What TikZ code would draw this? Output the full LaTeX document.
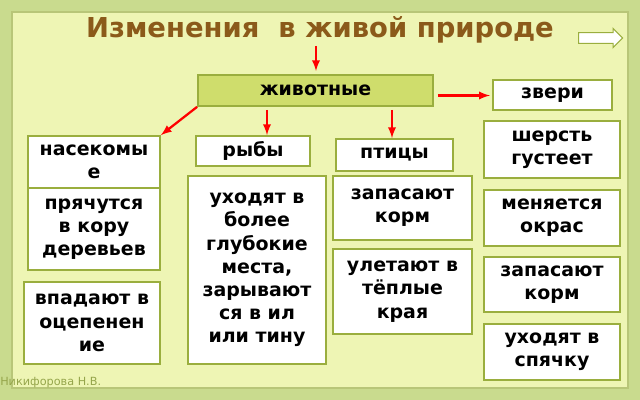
\documentclass[tikz,border=0pt]{standalone}
\usepackage{fontspec}
\setmainfont{DejaVu Sans}
\usetikzlibrary{shapes.arrows}
\definecolor{bgout}{HTML}{C9DB8E}
\definecolor{bgin}{HTML}{EEF5B4}
\definecolor{olive}{HTML}{9AAE3E}
\definecolor{titlec}{HTML}{8B5A1A}
\definecolor{boxg}{HTML}{CFDD6C}
\begin{document}
\begin{tikzpicture}[x=0.025cm,y=-0.025cm,
						box/.style = {draw=olive, line width=1.2pt, fill=white, align=center, font=\bfseries\fontsize{13.5}{16.5}\selectfont, inner sep=0pt},
						arr/.style = {draw=red, line width=1.6pt, -latex}
					]
\fill[bgout] (0,0) rectangle (640,400);
\fill[bgin, draw=olive!70, line width=1pt] (12,12) rectangle (628,388);
\node[font=\bfseries\fontsize{19.5}{22}\selectfont, text=titlec] (title) at (320,30) {Изменения \ в живой природе};
\node[single arrow, draw=olive, fill=white, line width=0.8pt, single arrow head extend=3pt, inner xsep=0.45cm, inner ysep=0.12cm, minimum height=1.1cm] (next) at (598,38) {};
\node[box, fill=boxg, minimum width=5.875cm, minimum height=0.775cm] (anim) at (315.5,90.5) {животные};
\node[box, minimum width=2.975cm, minimum height=0.75cm] (beast) at (552.5,95) {звери};
\node[box, minimum width=3.4cm, minimum height=1.425cm] (fur) at (552,149.5) {шерсть\\густеет};
\node[box, minimum width=3.4cm, minimum height=1.4cm] (colour) at (552,218) {меняется\\окрас};
\node[box, minimum width=3.4cm, minimum height=1.375cm] (store2) at (552,284.5) {запасают\\корм};
\node[box, minimum width=3.4cm, minimum height=1.4cm] (sleep) at (552,352) {уходят в\\спячку};
\node[box, minimum width=3.3cm, minimum height=1.3cm] (insect) at (94,162) {насекомы\\е};
\node[box, minimum width=3.3cm, minimum height=2.05cm] (bark) at (94,229) {прячутся\\в кору\\деревьев};
\node[box, minimum width=3.4cm, minimum height=2.05cm] (numb) at (92,323) {впадают в\\оцепенен\\ие};
\node[box, minimum width=2.85cm, minimum height=0.75cm] (fish) at (253,151) {рыбы};
\node[box, minimum width=3.45cm, minimum height=4.7cm] (deep) at (257,270) {уходят в\\более\\глубокие\\места,\\зарывают\\ся в ил\\или тину};
\node[box, minimum width=2.925cm, minimum height=0.8cm] (bird) at (394.5,155) {птицы};
\node[box, minimum width=3.475cm, minimum height=1.6cm] (store1) at (402.5,208) {запасают\\корм};
\node[box, minimum width=3.475cm, minimum height=2.125cm] (warm) at (402.5,291.5) {улетают в\\тёплые\\края};
\node[text=olive!80!gray, font=\fontsize{8}{9}\selectfont, anchor=west, inner sep=0pt] (author) at (0,383) {Никифорова Н.В.};

\draw[arr] (316,46) -- (316,71);
\draw[arr] (anim.east) ++(4,5) -- ++(52,0);
\draw[arr] (anim.south west) -- (insect.north east);
\draw[arr] (267,110) -- (fish.north -| 267,0);
\draw[arr] (392,110) -- (bird.north -| 392,0);
\end{tikzpicture}
\end{document}
